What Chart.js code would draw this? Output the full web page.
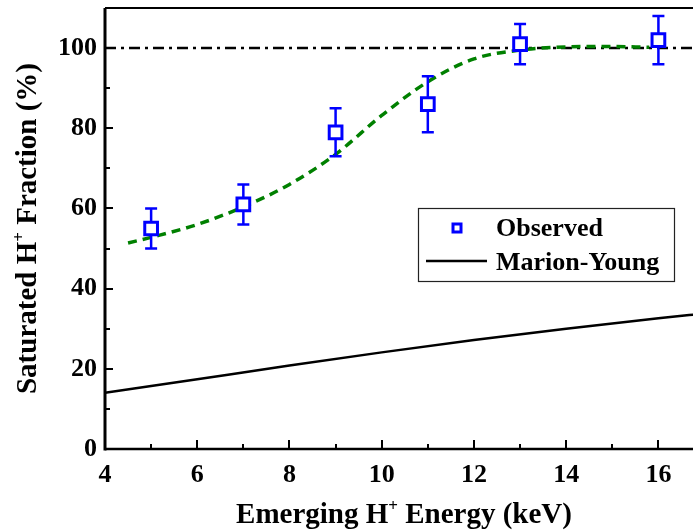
<!DOCTYPE html>
<html>
<head>
<meta charset="utf-8">
<script src="https://cdn.jsdelivr.net/npm/chart.js@4/dist/chart.umd.min.js"></script>
<style>
html,body{margin:0;padding:0;background:#fff;}
#wrap{width:693px;height:531px;position:relative;}
</style>
</head>
<body>
<div id="wrap"><canvas id="c" width="693" height="531"></canvas></div>
<script>
// ---- data ----
const obsX = [5, 7, 9, 11, 13, 16];
const obsY = [55, 61, 79, 86, 101, 102];
const obsLow = [50, 56, 73, 79, 96, 96];
const obsHigh = [60, 66, 85, 93, 106, 108];

const fitX = [4.5, 5, 6, 7, 8, 9, 10, 11, 12, 13, 14, 15, 15.8];
const fitY = [51.4, 52.8, 56, 60.4, 66, 73.5, 83.2, 91.6, 97.3, 99.5, 100.3, 100.4, 100.2];

const myX = [4, 6, 8, 10, 12, 14, 16, 17];
const myY = [14, 17.4, 20.8, 24.1, 27.2, 30.0, 32.6, 33.8];

const refX = [4, 16.75];
const refY = [100, 100];

const xTicks = [4, 6, 8, 10, 12, 14, 16];
const xMinor = [5, 7, 9, 11, 13, 15];
const yTicks = [0, 20, 40, 60, 80, 100];
const yMinor = [10, 30, 50, 70, 90];

const legendLabels = ['Observed', 'Marion-Young'];
const xTitle = ['Emerging H', '+', ' Energy (keV)'];
const yTitle = ['Saturated H', '+', ' Fraction (%)'];

const FONT = '"Liberation Serif", "Times New Roman", serif';
const BLUE = '#0000ff';

const zip = (xs, ys) => xs.map((x, i) => ({x: x, y: ys[i]}));

function drawTitle(ctx, parts, size) {
  ctx.font = 'bold ' + size + 'px ' + FONT;
  const w0 = ctx.measureText(parts[0]).width;
  const supSize = Math.round(size * 0.6);
  ctx.font = 'bold ' + supSize + 'px ' + FONT;
  const w1 = ctx.measureText(parts[1]).width;
  ctx.font = 'bold ' + size + 'px ' + FONT;
  const w2 = ctx.measureText(parts[2]).width;
  const total = w0 + w1 + w2;
  let x = -total / 2;
  ctx.textAlign = 'left';
  ctx.textBaseline = 'alphabetic';
  ctx.fillText(parts[0], x, 0);
  x += w0;
  ctx.font = 'bold ' + supSize + 'px ' + FONT;
  ctx.fillText(parts[1], x, -size * 0.42);
  x += w1;
  ctx.font = 'bold ' + size + 'px ' + FONT;
  ctx.fillText(parts[2], x, 0);
}

const errorBars = {
  id: 'errorBars',
  beforeDatasetDraw(chart, args) {
    if (args.index !== 0) return;
    const ctx = chart.ctx, xs = chart.scales.x, ys = chart.scales.y;
    ctx.save();
    ctx.strokeStyle = BLUE;
    ctx.lineWidth = 2.5;
    const cap = 6;
    obsX.forEach((xv, i) => {
      const px = xs.getPixelForValue(xv);
      const pl = ys.getPixelForValue(obsLow[i]);
      const ph = ys.getPixelForValue(obsHigh[i]);
      ctx.beginPath();
      ctx.moveTo(px, pl); ctx.lineTo(px, ph);
      ctx.moveTo(px - cap, pl); ctx.lineTo(px + cap, pl);
      ctx.moveTo(px - cap, ph); ctx.lineTo(px + cap, ph);
      ctx.stroke();
    });
    ctx.restore();
  }
};

const frame = {
  id: 'frame',
  afterDraw(chart) {
    const ctx = chart.ctx, a = chart.chartArea, xs = chart.scales.x, ys = chart.scales.y;
    ctx.save();
    ctx.strokeStyle = '#000';
    ctx.lineWidth = 3;
    ctx.beginPath(); ctx.moveTo(a.left, a.top); ctx.lineTo(a.left, a.bottom + 1.5); ctx.stroke();
    ctx.lineWidth = 2.5;
    ctx.beginPath(); ctx.moveTo(a.left, a.bottom); ctx.lineTo(a.right, a.bottom); ctx.stroke();
    ctx.lineWidth = 2;
    ctx.beginPath(); ctx.moveTo(a.left, a.top); ctx.lineTo(a.right, a.top); ctx.stroke();
    ctx.lineWidth = 2;
    ctx.beginPath();
    yTicks.forEach(v => { const p = Math.round(ys.getPixelForValue(v)); ctx.moveTo(a.left, p); ctx.lineTo(a.left + 8, p); });
    yMinor.forEach(v => { const p = Math.round(ys.getPixelForValue(v)); ctx.moveTo(a.left, p); ctx.lineTo(a.left + 5, p); });
    xTicks.forEach(v => { const p = Math.round(xs.getPixelForValue(v)); ctx.moveTo(p, a.bottom); ctx.lineTo(p, a.bottom - 9); });
    xMinor.forEach(v => { const p = Math.round(xs.getPixelForValue(v)); ctx.moveTo(p, a.bottom); ctx.lineTo(p, a.bottom - 5); });
    ctx.stroke();

    ctx.fillStyle = '#000';
    ctx.save();
    ctx.translate((a.left + a.right) / 2 + 5, 523);
    drawTitle(ctx, xTitle, 29);
    ctx.restore();
    ctx.save();
    ctx.translate(36, (a.top + a.bottom) / 2);
    ctx.rotate(-Math.PI / 2);
    drawTitle(ctx, yTitle, 29);
    ctx.restore();

    const lx = 418, ly = 208, lw = 256, lh = 73;
    ctx.fillStyle = '#fff';
    ctx.fillRect(lx, ly, lw, lh);
    ctx.lineWidth = 1.2;
    ctx.strokeStyle = '#222';
    ctx.strokeRect(lx + 0.5, ly + 0.5, lw, lh);
    ctx.strokeStyle = BLUE;
    ctx.lineWidth = 3;
    ctx.strokeRect(lx + 35, ly + 16, 8, 8);
    ctx.strokeStyle = '#000';
    ctx.lineWidth = 2.5;
    ctx.beginPath(); ctx.moveTo(lx + 8, ly + 53); ctx.lineTo(lx + 69, ly + 53); ctx.stroke();
    ctx.fillStyle = '#000';
    ctx.font = 'bold 26px ' + FONT;
    ctx.textAlign = 'left';
    ctx.textBaseline = 'alphabetic';
    ctx.fillText(legendLabels[0], lx + 78, ly + 28);
    ctx.fillText(legendLabels[1], lx + 78, ly + 62);
    ctx.restore();
  }
};

new Chart(document.getElementById('c'), {
  type: 'scatter',
  data: {
    datasets: [
      {
        label: legendLabels[0],
        data: zip(obsX, obsY),
        showLine: false,
        pointStyle: 'rect',
        pointRadius: 9,
        pointBorderWidth: 3,
        pointBorderColor: BLUE,
        pointBackgroundColor: '#fff'
      },
      {
        label: 'fit',
        data: zip(fitX, fitY),
        showLine: true,
        borderColor: '#008000',
        borderWidth: 3.5,
        borderDash: [9, 6],
        cubicInterpolationMode: 'monotone',
        pointRadius: 0
      },
      {
        label: legendLabels[1],
        data: zip(myX, myY),
        showLine: true,
        borderColor: '#000',
        borderWidth: 2.5,
        cubicInterpolationMode: 'monotone',
        pointRadius: 0
      },
      {
        label: 'ref',
        data: zip(refX, refY),
        showLine: true,
        borderColor: '#000',
        borderWidth: 2.5,
        borderDash: [11, 5, 3, 5],
        pointRadius: 0
      }
    ]
  },
  options: {
    responsive: false,
    animation: false,
    events: [],
    layout: { autoPadding: false, padding: { top: 8, right: 0, left: 0, bottom: 0 } },
    plugins: { legend: { display: false }, tooltip: { enabled: false } },
    scales: {
      x: {
        type: 'linear',
        min: 4, max: 16.75,
        grid: { display: false },
        border: { display: false },
        afterBuildTicks: s => { s.ticks = xTicks.map(v => ({value: v})); },
        afterFit: s => { s.height = 82; s.paddingLeft = 0; s.paddingRight = 0; },
        ticks: { color: '#000', padding: 3, font: { family: FONT, size: 26, weight: 'bold' }, maxRotation: 0 }
      },
      y: {
        type: 'linear',
        min: 0, max: 110,
        grid: { display: false },
        border: { display: false },
        afterBuildTicks: s => { s.ticks = yTicks.map(v => ({value: v})); },
        afterFit: s => { s.width = 105; s.paddingTop = 0; s.paddingBottom = 0; },
        ticks: { color: '#000', padding: 0, font: { family: FONT, size: 26, weight: 'bold' } }
      }
    }
  },
  plugins: [errorBars, frame]
});
</script>
</body>
</html>
